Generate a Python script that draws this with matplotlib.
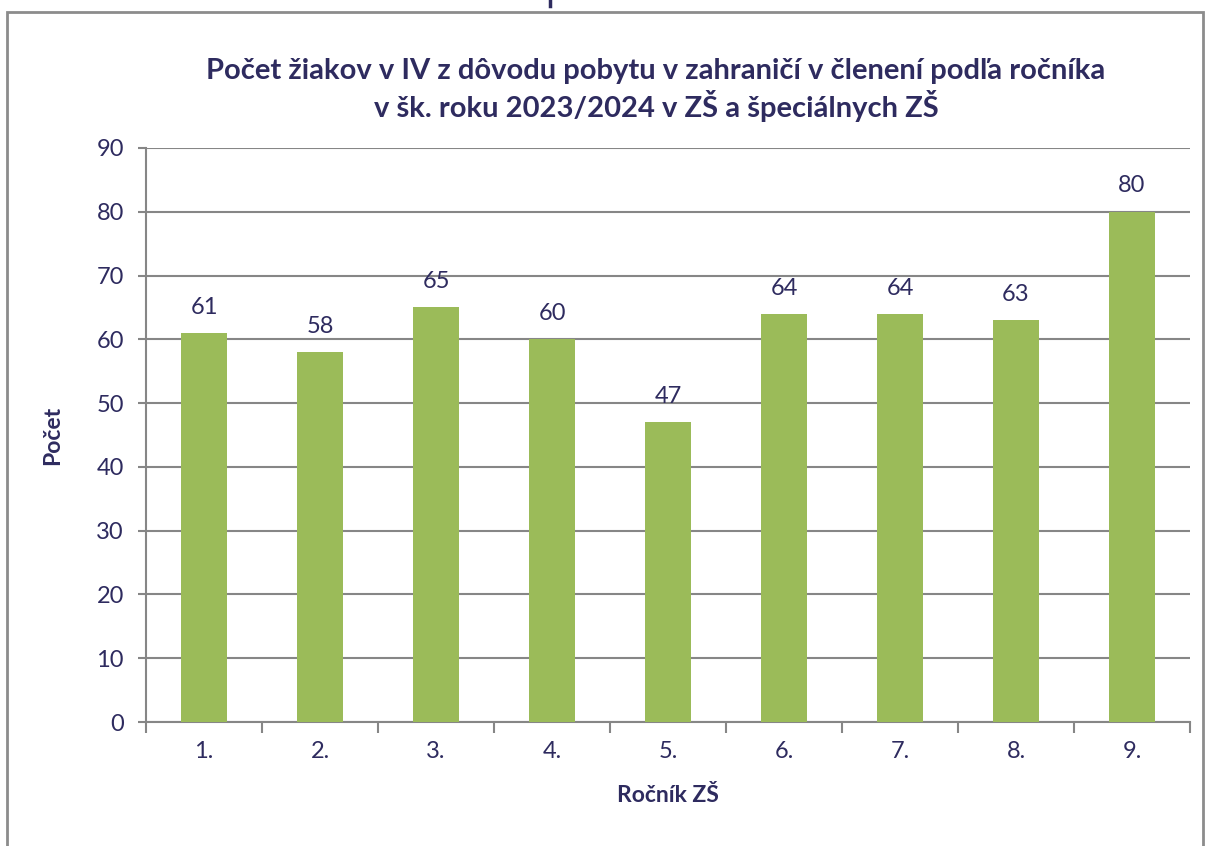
import matplotlib
matplotlib.use("Agg")
import matplotlib.pyplot as plt
from matplotlib.patches import Rectangle
from matplotlib.lines import Line2D

categories = ["1.", "2.", "3.", "4.", "5.", "6.", "7.", "8.", "9."]
values = [61, 58, 65, 60, 47, 64, 64, 63, 80]
yticks = [0, 10, 20, 30, 40, 50, 60, 70, 80, 90]
title = "Počet žiakov v IV z dôvodu pobytu v zahraničí v členení podľa ročníka\nv šk. roku 2023/2024 v ZŠ a špeciálnych ZŠ"
xlabel = "Ročník ZŠ"
ylabel = "Počet"

W, H = 1206, 846
txt = "#2E2B5F"
grid = "#868686"
bar_c = "#9BBB59"
plt.rcParams['font.family'] = ['Lato', 'DejaVu Sans']

fig = plt.figure(figsize=(W/100, H/100), dpi=100)
# outer frame
fig.add_artist(Rectangle((7/W, -0.1), (1203-7)/W, 1.1 - 12/H, transform=fig.transFigure,
                         fill=False, edgecolor="#8C8C8C", linewidth=2))
fig.add_artist(Line2D([550/W, 550/W], [1.0, 1 - 6/H], transform=fig.transFigure,
                      color=txt, linewidth=2.5))

left, right, top, bottom = 146, 1190, 148, 722
ax = fig.add_axes([left/W, 1 - bottom/H, (right-left)/W, (bottom-top)/H])
x = list(range(len(categories)))
ax.bar(x, values, width=0.4, color=bar_c, zorder=3)
ax.set_xlim(-0.5, len(categories) - 0.5)
ax.set_ylim(0, 90)
ax.set_yticks(yticks)
ax.set_yticklabels([str(t) for t in yticks], fontsize=17, color=txt)
ax.set_xticks(x)
ax.set_xticklabels(categories, fontsize=17, color=txt)
ax.tick_params(axis='x', length=0, pad=14)
ax.tick_params(axis='y', length=6, color=grid, width=1.5, pad=10)
ax.set_xticks([i - 0.5 for i in range(len(categories) + 1)], minor=True)
ax.tick_params(axis='x', which='minor', length=8, color=grid, width=1.5, direction='out')
ax.yaxis.grid(True, color=grid, linewidth=1.5, zorder=0)
for s in ['top', 'right']:
    ax.spines[s].set_visible(False)
for s in ['left', 'bottom']:
    ax.spines[s].set_color(grid)
    ax.spines[s].set_linewidth(1.5)
for xi, v in zip(x, values):
    ax.annotate(str(v), (xi, v), xytext=(0, 11), textcoords='offset points',
                ha='center', va='bottom', fontsize=17, color=txt)
ax.set_xlabel(xlabel, fontsize=16.5, fontweight='bold', color=txt, labelpad=16)
ax.set_ylabel(ylabel, fontsize=16.5, fontweight='bold', color=txt, labelpad=24)
fig.text(656/W, 1 - 90/H, title, ha='center', va='center', fontsize=21,
         fontweight='bold', color=txt, linespacing=1.2)
fig.savefig("out.png", dpi=100)
